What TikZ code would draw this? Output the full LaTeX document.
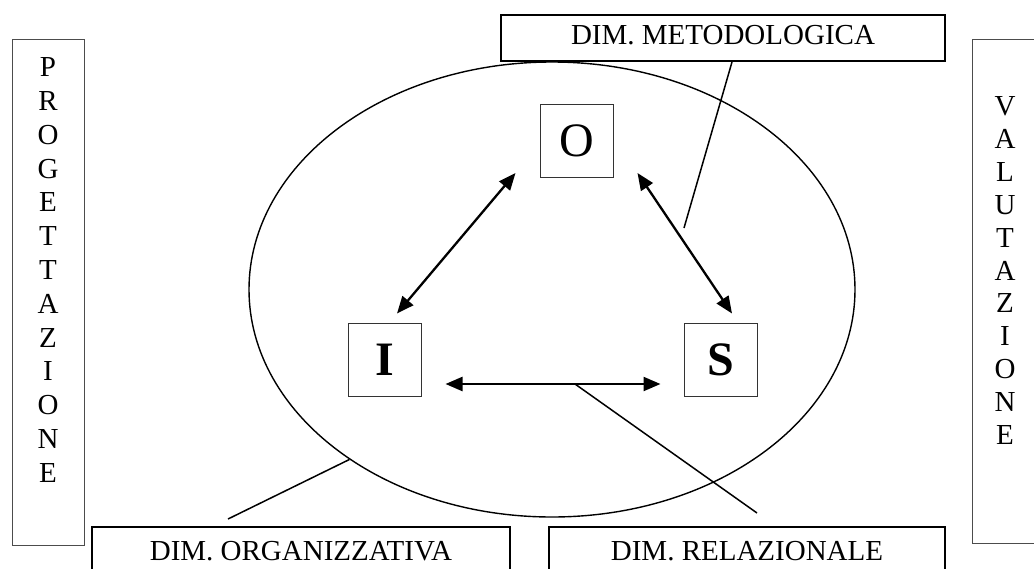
\documentclass[tikz,border=0pt]{standalone}
\usepackage{fontspec}
\setmainfont{Liberation Serif}
\usetikzlibrary{arrows.meta,calc,shapes.geometric}
\begin{document}
\begin{tikzpicture}[x=1pt,y=-1pt,
  colbox/.style={draw=black!70,line width=1pt,minimum width=72pt,inner sep=0pt},
  stack/.style={align=center,inner sep=0pt},
  letterbox/.style={draw=black!80,line width=1pt,minimum width=73pt,minimum height=73pt,inner sep=0pt,font=\fontsize{48}{48}\selectfont},
  dimbox/.style={draw,fill=white,line width=2pt,inner sep=0pt,font=\fontsize{29}{29}\selectfont,text depth=6pt},
  rel/.style={line width=2.3pt,{Triangle[length=17pt,width=14pt]}-{Triangle[length=17pt,width=14pt]}},
  callout/.style={line width=1.5pt}]
\useasboundingbox (0,0) rectangle (1034,568);
\clip (0,0) rectangle (1034,568);
% side columns
\node[colbox,minimum height=506pt] (progbox) at (48,292) {};
\node[stack,font=\fontsize{29}{33.8}\selectfont] (prog) at (48,270) {P\\R\\O\\G\\E\\T\\T\\A\\Z\\I\\O\\N\\E};
\node[colbox,minimum height=504pt] (valbox) at (1008,291) {};
\node[stack,font=\fontsize{29}{32.9}\selectfont] (valu) at (1005,270.5) {V\\A\\L\\U\\T\\A\\Z\\I\\O\\N\\E};
% ellipse
\node[draw,ellipse,line width=1.4pt,minimum width=606pt,minimum height=455pt,inner sep=0pt] (field) at (552,289.5) {};
% labels
\node[dimbox,minimum width=444pt,minimum height=46pt] (met) at (723,38) {DIM. METODOLOGICA};
\node[dimbox,minimum width=418pt,minimum height=54pt] (org) at (301,554) {DIM. ORGANIZZATIVA};
\node[dimbox,minimum width=396pt,minimum height=54pt] (relb) at (747,554) {DIM. RELAZIONALE};
% letter boxes
\node[letterbox] (O) at (576.5,141) {O};
\node[letterbox] (I) at (384.5,359.5) {\bfseries I};
\node[letterbox] (S) at (720.5,359.5) {\bfseries S};
% arrows
\draw[rel] ($(I.north)+(12.5,-9)$) -- ($(O.south west)+(-24,-5)$);
\draw[rel] ($(O.south east)+(24,-5)$) -- ($(S.north)+(11.5,-9)$);
\draw[rel] ($(I.east)+(24,24.5)$) -- ($(S.west)+(-23,24.5)$);
% callouts
\coordinate (metend) at (684,228);
\coordinate (relstart) at (575,384);
\draw[callout] ($(met.south)+(9,0)$) -- (metend);
\draw[callout] (relstart) -- ($(relb.north)+(10,-13)$);
\draw[callout] (field.220) -- ($(org.north)+(-73,-7)$);
\end{tikzpicture}
\end{document}
